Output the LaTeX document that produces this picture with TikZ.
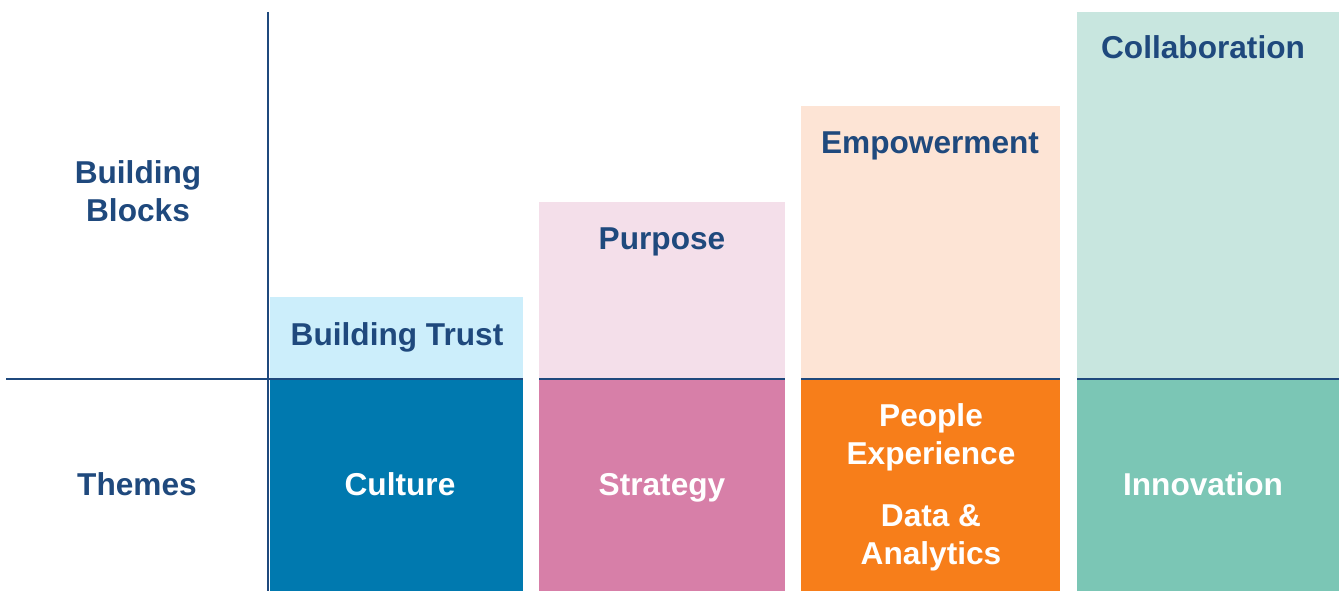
\documentclass[tikz,border=0pt]{standalone}
\usepackage{fontspec}
\setmainfont{Liberation Sans}
\definecolor{navy}{HTML}{1F497D}
\definecolor{trustbg}{HTML}{CCEEFB}
\definecolor{culturebg}{HTML}{0079AF}
\definecolor{purposebg}{HTML}{F4DFEA}
\definecolor{strategybg}{HTML}{D77FA8}
\definecolor{empowerbg}{HTML}{FDE4D5}
\definecolor{peoplebg}{HTML}{F77E1A}
\definecolor{collabbg}{HTML}{C8E6DF}
\definecolor{innovbg}{HTML}{7BC6B5}
\begin{document}
\begin{tikzpicture}[x=0.02cm,y=-0.02cm,
    lbl/.style={font=\bfseries\fontsize{18}{21.6}\selectfont,align=center,inner sep=0pt},
    blocklbl/.style={lbl,text=navy},
    themelbl/.style={lbl,text=white},
    axis/.style={navy,line width=1.1pt}]
  \useasboundingbox[fill=white] (0,0) rectangle (1344,591);

  % building blocks (top row)
  \fill[trustbg] (270,297) rectangle (523,379);
  \fill[purposebg] (539,202) rectangle (785,379);
  \fill[empowerbg] (801,106) rectangle (1060,379);
  \fill[collabbg] (1077,12) rectangle (1339,379);

  % themes (bottom row)
  \fill[culturebg] (270,379) rectangle (523,591);
  \fill[strategybg] (539,379) rectangle (785,591);
  \fill[peoplebg] (801,379) rectangle (1060,591);
  \fill[innovbg] (1077,379) rectangle (1339,591);

  % rules
  \draw[axis] (268,12) -- (268,591);
  \draw[axis] (6,379) -- (523,379);
  \draw[axis] (539,379) -- (785,379);
  \draw[axis] (801,379) -- (1060,379);
  \draw[axis] (1077,379) -- (1339,379);

  \node[blocklbl] (blocks) at (138,191) {Building\\Blocks};
  \node[blocklbl] (themes) at (137,484) {Themes};

  \node[blocklbl] (trust) at (397,337) {Building Trust};
  \node[blocklbl] (purpose) at (662,242) {Purpose};
  \node[blocklbl] (empower) at (930,146) {Empowerment};
  \node[blocklbl] (collab) at (1203,47) {Collaboration};

  \node[themelbl] (culture) at (400,484) {Culture};
  \node[themelbl] (strategy) at (662,488) {Strategy};
  \node[themelbl] (people) at (931,437) {People\\Experience};
  \node[themelbl] (data) at (931,538) {Data \&\\Analytics};
  \node[themelbl] (innov) at (1203,484) {Innovation};
\end{tikzpicture}
\end{document}
